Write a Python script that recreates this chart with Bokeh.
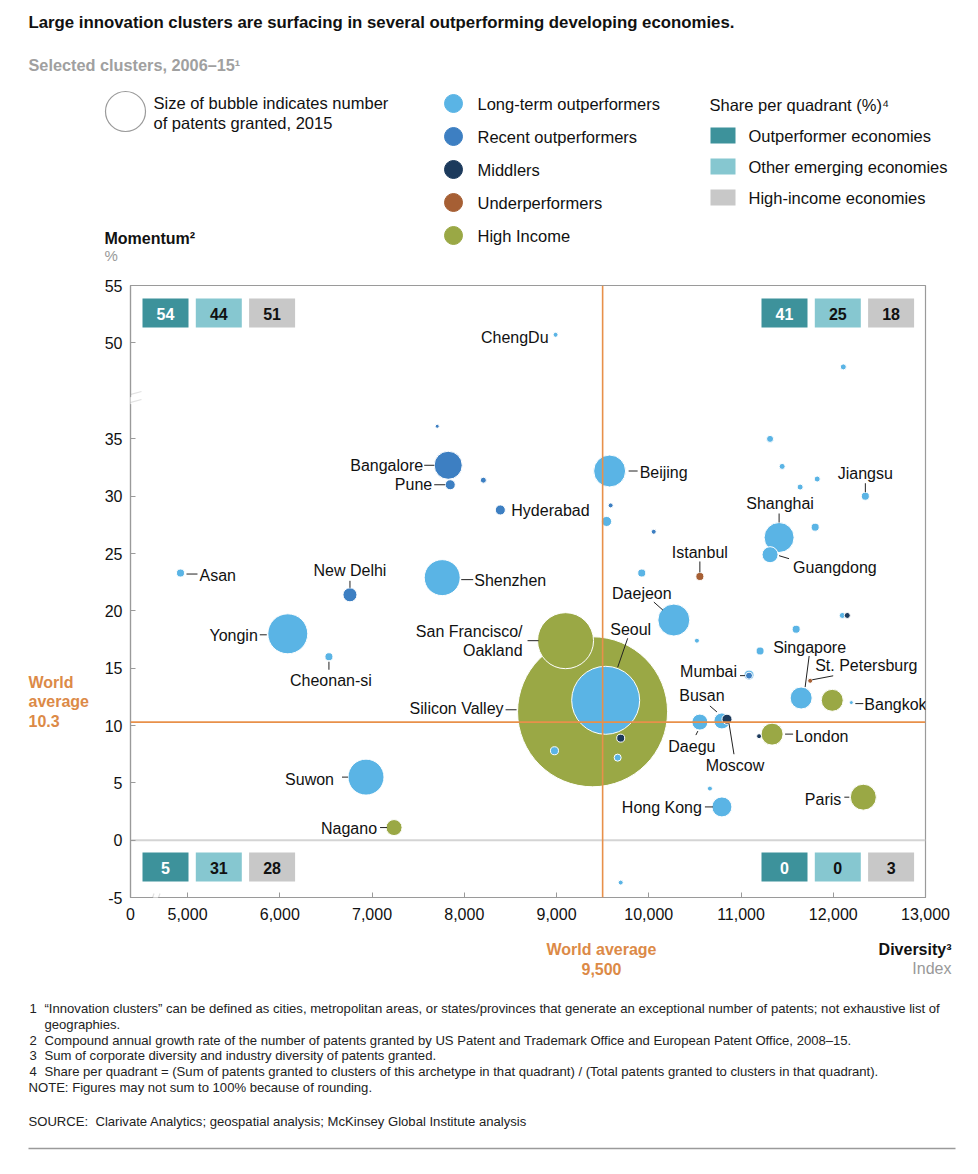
import math
from bokeh.plotting import figure
from bokeh.layouts import column, row
from bokeh.models import (ColumnDataSource, LabelSet, Label, Span, BoxAnnotation,
                          PolyAnnotation, FixedTicker, NumeralTickFormatter,
                          CustomJSTickFormatter, Range1d)
from bokeh.core.properties import value
from bokeh.embed import file_html
from bokeh.resources import INLINE

# ---------------- data ----------------
names = ["ChengDu", "", "Bangalore", "Pune", "", "Hyderabad", "Asan", "New Delhi",
         "Shenzhen", "Yongin", "Cheonan-si", "San Francisco/Oakland", "Silicon Valley",
         "Seoul", "", "", "", "Suwon", "Nagano", "", "Beijing", "", "", "", "", "",
         "Jiangsu", "Shanghai", "Guangdong", "", "", "", "", "", "Istanbul", "Daejeon",
         "", "", "", "", "", "", "Mumbai", "Singapore", "St. Petersburg", "", "Bangkok",
         "Busan", "Moscow", "Daegu", "London", "", "Hong Kong", "", "Paris"]
archetype = ["LT", "RO", "RO", "RO", "RO", "RO", "LT", "RO",
             "LT", "LT", "LT", "HI", "HI",
             "LT", "LT", "LT", "MI", "LT", "HI", "LT", "LT", "LT", "LT", "LT", "LT", "LT",
             "LT", "LT", "LT", "LT", "RO", "LT", "RO", "LT", "UP", "LT",
             "LT", "LT", "MI", "LT", "LT", "LT", "RO", "LT", "UP", "HI", "LT",
             "LT", "MI", "LT", "HI", "MI", "LT", "LT", "HI"]
diversity = [8990, 7707, 7826, 7848, 8207, 8391, 4924, 6761,
             7761, 6087, 6533, 9098, 9391,
             9533, 8978, 9663, 9696, 6935, 7239, 9696, 9576, 12109, 11315, 11446, 11826, 11641,
             12348, 11413, 11315, 11804, 9587, 9543, 10054, 9924, 10554, 10272,
             10522, 12098, 12152, 11598, 11207, 11087, 11087, 11652, 11750, 11989, 12196,
             10793, 10848, 10554, 11337, 11196, 10793, 10663, 12326]
momentum = [50.7, 36.1, 32.7, 31.0, 31.4, 28.8, 23.3, 21.4,
            22.9, 18.0, 16.0, 17.4, 11.2,
            12.2, 7.8, 7.2, 8.9, 5.5, 1.1, -3.7, 32.2, 47.9, 35.0, 32.6, 31.5, 30.8,
            30.0, 26.4, 24.9, 27.3, 29.2, 27.8, 26.9, 23.3, 23.0, 19.2,
            17.4, 19.6, 19.6, 18.4, 16.5, 14.4, 14.35, 12.4, 13.9, 12.2, 12.0,
            10.4, 10.55, 10.3, 9.25, 9.07, 2.9, 4.5, 3.75]
patents = [22, 14, 700, 90, 32, 90, 57, 175,
           1150, 1420, 57, 2790, 20000,
           4110, 57, 44, 57, 1150, 228, 22, 910, 32, 44, 32, 32, 32,
           57, 800, 228, 57, 22, 90, 22, 57, 57, 910,
           22, 32, 32, 57, 57, 90, 44, 430, 22, 430, 14,
           228, 90, 228, 430, 22, 356, 22, 600]

archetype_codes = ["LT", "RO", "MI", "UP", "HI"]
archetype_names = ["Long-term outperformers", "Recent outperformers", "Middlers",
                   "Underperformers", "High Income"]
archetype_colors = ["#5ab4e5", "#3d7fc2", "#1c3a5c", "#a65f34", "#9aa845"]

share_groups = ["Outperformer economies", "Other emerging economies", "High-income economies"]
share_colors = ["#3d929b", "#86c7d0", "#c8c8c8"]
share_text_colors = ["#ffffff", "#111111", "#111111"]
share_top_left = [54, 44, 51]
share_top_right = [41, 25, 18]
share_bottom_left = [5, 31, 28]
share_bottom_right = [0, 0, 3]

x_ticks = [5000, 6000, 7000, 8000, 9000, 10000, 11000, 12000, 13000]
y_ticks_low = [-5, 0, 5, 10, 15, 20, 25, 30, 35]
y_ticks_high = [50, 55]
world_avg_diversity = 9500
world_avg_momentum = 10.3

# ---------------- layout constants (page pixels) ----------------
PAGE_W = 962
HEAD_H = 275
LEFT_W = 95
MAIN_W = PAGE_W - LEFT_W
MAIN_H = 657
FOOT_H = 226
FRAME_L, FRAME_R, FRAME_T, FRAME_B = 130, 925, 285, 897
FONT = "Liberation Sans"
ORANGE = "#e8904a"
ORANGE_TXT = "#dc8a47"
INK = "#111111"

Y_OFF = 6.62           # compression of the broken y axis above the break
X0, X1 = 4382, 13000
Y0, Y1 = -5, y_ticks_high[-1] - Y_OFF
UX = (X1 - X0) / (FRAME_R - FRAME_L)
UY = (Y1 - Y0) / (FRAME_B - FRAME_T)


def py(v):
    return v - Y_OFF if v > 40 else v


def blank_fig(w, h, y_top):
    f = figure(width=w, height=h, x_range=Range1d(0, w), y_range=Range1d(y_top + h, y_top),
               output_backend="svg", toolbar_location=None, title=None,
               x_axis_location=None, y_axis_location=None,
               min_border_left=0, min_border_right=0, min_border_top=0, min_border_bottom=0)
    f.grid.visible = False
    f.outline_line_color = None
    return f


def txt(f, x, y, s, size=16, bold=False, color=INK, align="left"):
    f.text(x=[x], y=[y], text=[s], text_font=value(FONT), text_font_size=f"{size}px",
           text_font_style="bold" if bold else "normal", text_color=color,
           text_align=align, text_baseline="middle")


# ---------------- header ----------------
head = blank_fig(PAGE_W, HEAD_H, 0)
txt(head, 28, 22, "Large innovation clusters are surfacing in several outperforming developing economies.",
    size=16.8, bold=True)
txt(head, 28, 64, "Selected clusters, 2006\u201315\u00b9", size=16.3, bold=True, color="#a0a0a0")
head.scatter(x=[125], y=[111], size=40, fill_color=None, line_color="#9a9a9a", line_width=1.2)
txt(head, 153, 102, "Size of bubble indicates number", size=16.5)
txt(head, 153, 122, "of patents granted, 2015", size=16.5)
leg_y = [103 + 33 * k for k in range(len(archetype_names))]
head.scatter(x=[453] * len(leg_y), y=leg_y, size=18, fill_color=archetype_colors,
             line_color=archetype_colors)
for yy, nm in zip(leg_y, archetype_names):
    txt(head, 477, yy, nm, size=16.5)
txt(head, 709, 104, "Share per quadrant (%)\u2074", size=16.5)
sq_y = [135 + 31 * k for k in range(len(share_groups))]
head.rect(x=[722.5] * len(sq_y), y=sq_y, width=25, height=16, fill_color=share_colors,
          line_color=None)
for yy, nm in zip(sq_y, share_groups):
    txt(head, 748, yy, nm, size=16.5)
txt(head, 104, 238, "Momentum\u00b2", size=16, bold=True)
txt(head, 104, 255, "%", size=15, color="#999999")

# ---------------- left strip ----------------
left = blank_fig(LEFT_W, MAIN_H, HEAD_H)
txt(left, 28, 701, "World", size=16, bold=True, color=ORANGE_TXT)
txt(left, 28, 722, "average", size=16, bold=True, color=ORANGE_TXT)
txt(left, 28, 742, f"{world_avg_momentum}", size=16, bold=True, color=ORANGE_TXT)

# ---------------- main chart ----------------
BL = FRAME_L - LEFT_W
BR = PAGE_W - FRAME_R
BT = FRAME_T - HEAD_H
BB = HEAD_H + MAIN_H - FRAME_B
p = figure(width=MAIN_W, height=MAIN_H, x_range=(X0, X1), y_range=(Y0, Y1),
           output_backend="svg", toolbar_location=None, title=None,
           min_border_left=BL, min_border_right=BR, min_border_top=BT, min_border_bottom=BB)
p.grid.visible = False
p.outline_line_color = "#9a9a9a"
p.outline_line_width = 1.2

xa = p.xaxis[0]
xa.ticker = FixedTicker(ticks=[X0] + x_ticks)
xa.formatter = NumeralTickFormatter(format="0,0")
xa.major_label_overrides = {X0: "0"}
ya = p.yaxis[0]
ya.ticker = FixedTicker(ticks=y_ticks_low + [t - Y_OFF for t in y_ticks_high])
ya.formatter = CustomJSTickFormatter(
    code="return tick > 40 ? String(Math.round(tick + %s)) : String(tick);" % Y_OFF)
for ax in (xa, ya):
    ax.axis_line_color = "#9a9a9a"
    ax.axis_line_width = 1.2
    ax.major_tick_line_color = "#9a9a9a"
    ax.major_tick_in = 5
    ax.major_tick_out = 0
    ax.minor_tick_line_color = None
    ax.major_label_text_font = FONT
    ax.major_label_text_font_size = "16px"
    ax.major_label_text_color = INK
xa.major_label_standoff = 10
ya.major_label_standoff = 8


def sx(ix):
    return ix - FRAME_L


def sy(iy):
    return FRAME_B - iy


# zero line
p.add_layout(Span(location=0, dimension="width", line_color="#d4d4d4", line_width=2,
                  level="underlay"))

# bubbles
order = sorted(range(len(names)), key=lambda i: -patents[i])
color_of = dict(zip(archetype_codes, archetype_colors))
src = ColumnDataSource(dict(
    x=[diversity[i] for i in order],
    y=[py(momentum[i]) for i in order],
    size=[150 * math.sqrt(patents[i] / 20000) for i in order],
    color=[color_of[archetype[i]] for i in order],
))
p.scatter(x="x", y="y", size="size", fill_color="color", line_color="white",
          line_width=1, source=src)

# world average lines
p.add_layout(Span(location=world_avg_diversity, dimension="height", line_color=ORANGE, line_width=1.6))
p.add_layout(Span(location=world_avg_momentum, dimension="width", line_color=ORANGE, line_width=1.6))

# city labels (pixel offsets from the bubble) and leader lines
LAB = {
    "ChengDu": (-7, 3, "right", None),
    "Bangalore": (-25, 0, "right", (-24, 0, -14, 0)),
    "Pune": (-18, 0, "right", (-16, 0, -5, 0)),
    "Hyderabad": (11, 1, "left", None),
    "Asan": (19, 2, "left", (6, 1, 17, 1)),
    "New Delhi": (0, -24, "center", (0, -14, 0, -7)),
    "Shenzhen": (32, 3, "left", (19, 2, 31, 2)),
    "Yongin": (-30, 2, "right", (-28, 1, -21, 1)),
    "Cheonan-si": (2, 24, "center", (0, 5, 0, 13)),
    "San Francisco/Oakland": (-43, 0, "right", (-38, 0, -27, 0)),
    "Silicon Valley": (-89, -3, "right", (-87, -2, -76, -2)),
    "Seoul": (25, -71, "center", (22, -62, 12, -33)),
    "Suwon": (-32, 2, "right", (-24, 0, -18, 0)),
    "Nagano": (-17, 1, "right", (-14, 0, -7, 0)),
    "Beijing": (30, 1, "left", (19, 0, 28, 0)),
    "Jiangsu": (0, -23, "center", (0, -13, 0, -4)),
    "Shanghai": (1, -34, "center", (0, -24, 0, -15)),
    "Guangdong": (23, 13, "left", (9, 1, 19, 4)),
    "Istanbul": (0, -24, "center", (0, -15, 0, -4)),
    "Daejeon": (-32, -27, "center", (-20, -18, -11, -10)),
    "Mumbai": (-12, -4, "right", (-9, 0, -4, 0)),
    "Singapore": (-28, -51, "left", (8, -42, 4, -11)),
    "St. Petersburg": (5, -15, "left", (23, -5, 2, -1)),
    "Bangkok": (13, 2, "left", (4, 1, 12, 1)),
    "Busan": (-20, -25, "center", (-12, -15, -5, -9)),
    "Moscow": (8, 46, "center", (2, 4, 7, 35)),
    "Daegu": (-8, 24, "center", (-2, 9, -4, 13)),
    "London": (23, 2, "left", (13, 0, 21, 0)),
    "Paris": (-22, 2, "right", (-19, 0, -14, 0)),
    "Hong Kong": (-20, 1, "right", (-17, 0, -9, 0)),
}
lab = {"left": dict(x=[], y=[], t=[]), "right": dict(x=[], y=[], t=[]), "center": dict(x=[], y=[], t=[])}
seg = dict(x0=[], y0=[], x1=[], y1=[])
for i, n in enumerate(names):
    if not n:
        continue
    dx, dy, al, ld = LAB[n]
    bx, by = diversity[i], py(momentum[i])
    if "/" in n:
        parts = [n.split("/")[0] + "/", n.split("/")[1]]
        for k, part in enumerate(parts):
            lab[al]["x"].append(bx + dx * UX)
            lab[al]["y"].append(by - (dy - 9.5 + 19 * k) * UY)
            lab[al]["t"].append(part)
    else:
        lab[al]["x"].append(bx + dx * UX)
        lab[al]["y"].append(by - dy * UY)
        lab[al]["t"].append(n)
    if ld:
        seg["x0"].append(bx + ld[0] * UX)
        seg["y0"].append(by - ld[1] * UY)
        seg["x1"].append(bx + ld[2] * UX)
        seg["y1"].append(by - ld[3] * UY)
p.segment(x0="x0", y0="y0", x1="x1", y1="y1", source=ColumnDataSource(seg),
          line_color="#222222", line_width=1)
for al, d in lab.items():
    p.add_layout(LabelSet(x="x", y="y", text="t", source=ColumnDataSource(d),
                          text_align=al, text_baseline="middle",
                          text_font=value(FONT), text_font_size="16px",
                          text_color=INK))


def box_ann(l, t, r, b, color):
    p.add_layout(BoxAnnotation(left=sx(l), right=sx(r), top=sy(t), bottom=sy(b),
                               left_units="screen", right_units="screen",
                               top_units="screen", bottom_units="screen",
                               fill_color=color, fill_alpha=1, line_color=None))


def plabel(ix, iy, s, color):
    p.add_layout(Label(x=sx(ix), y=sy(iy), x_units="screen", y_units="screen", text=s,
                       text_font=FONT, text_font_size="16px", text_font_style="bold",
                       text_color=color, text_align="center", text_baseline="middle"))


def share_row(x_first, top, values):
    for k, v in enumerate(values):
        l = x_first + k * 53.3
        box_ann(l, top, l + 46, top + 29, share_colors[k])
        plabel(l + 23, top + 15, str(v), share_text_colors[k])


share_row(142, 298, share_top_left)
share_row(761, 298, share_top_right)
share_row(142, 852, share_bottom_left)
share_row(761, 852, share_bottom_right)


def poly_ann(pts, fill=None, line=None, lw=1.2):
    p.add_layout(PolyAnnotation(xs=[sx(a) for a, b in pts], ys=[sy(b) for a, b in pts],
                                xs_units="screen", ys_units="screen",
                                fill_color=fill if fill else "white", fill_alpha=1 if fill else 0,
                                line_color=line, line_width=lw))


# axis breaks (the parts inside the plotting frame)
poly_ann([(118, 399.5), (142, 393.5), (142, 400.5), (118, 406.5)], fill="white")
poly_ann([(119, 397), (141, 391)], line="#9a9a9a")
poly_ann([(119, 405), (141, 399)], line="#9a9a9a")
poly_ann([(148.5, 909), (154, 893), (159, 893), (153.5, 909)], fill="white")
poly_ann([(148, 909), (153.5, 893)], line="#9a9a9a")
poly_ann([(153.5, 909), (159.5, 893)], line="#9a9a9a")

# ---------------- footer ----------------
FOOT_TOP = HEAD_H + MAIN_H
foot = blank_fig(PAGE_W, FOOT_H, FOOT_TOP)
txt(foot, 601, 949, "World average", size=16, bold=True, color=ORANGE_TXT, align="center")
txt(foot, 601, 968, f"{world_avg_diversity:,}", size=16, bold=True, color=ORANGE_TXT, align="center")
txt(foot, 951, 949, "Diversity\u00b3", size=16, bold=True, align="right")
txt(foot, 951, 968, "Index", size=16, color="#999999", align="right")
FN = 13.1
notes = [
    ("1", "\u201cInnovation clusters\u201d can be defined as cities, metropolitan areas, or states/provinces that generate an exceptional number of patents; not exhaustive list of", 1008),
    ("", "geographies.", 1024),
    ("2", "Compound annual growth rate of the number of patents granted by US Patent and Trademark Office and European Patent Office, 2008\u201315.", 1040),
    ("3", "Sum of corporate diversity and industry diversity of patents granted.", 1055),
    ("4", "Share per quadrant = (Sum of patents granted to clusters of this archetype in that quadrant) / (Total patents granted to clusters in that quadrant).", 1071),
]
for num, s, yy in notes:
    if num:
        txt(foot, 29, yy, num, size=FN, color="#222222")
    txt(foot, 44, yy, s, size=FN, color="#222222")
txt(foot, 28, 1087, "NOTE: Figures may not sum to 100% because of rounding.", size=FN, color="#222222")
txt(foot, 28, 1121, "SOURCE:\u00a0 Clarivate Analytics; geospatial analysis; McKinsey Global Institute analysis",
    size=FN, color="#222222")
foot.segment(x0=[28], y0=[1148], x1=[955], y1=[1148], line_color="#9a9a9a", line_width=1.5)

layout = column(head, row(left, p, spacing=0), foot, spacing=0)
open("out.html", "w").write(file_html(layout, INLINE))
